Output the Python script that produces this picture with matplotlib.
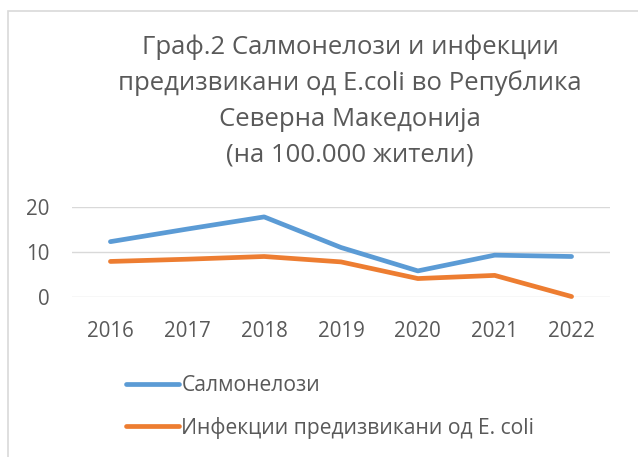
import matplotlib
matplotlib.use("Agg")
import matplotlib.pyplot as plt
from matplotlib.patches import Rectangle

years = ["2016", "2017", "2018", "2019", "2020", "2021", "2022"]
salmonella = [12.3, 15.1, 17.8, 11.0, 5.8, 9.3, 9.0]
ecoli = [7.9, 8.4, 9.0, 7.8, 4.1, 4.8, 0.1]
series_names = ["Салмонелози", "Инфекции предизвикани од E. coli"]
title = "Граф.2 Салмонелози и инфекции\nпредизвикани од E.coli во Република\nСеверна Македонија\n(на 100.000 жители)"
yticks = [0, 10, 20]

plt.rcParams['font.family'] = ['Open Sans', 'DejaVu Sans']
TXT = "#595959"
BLUE = "#5B9BD5"
ORANGE = "#ED7D31"
GRID = "#D9D9D9"

fig = plt.figure(figsize=(6.38, 4.57), dpi=100)
fig.patch.set_facecolor("white")
fig.patches.append(Rectangle((8/638, -0.1), 1.2, 1 - 11/457 + 0.1, transform=fig.transFigure,
                             fill=False, edgecolor=GRID, linewidth=1.2))

ax = fig.add_axes([72/638, 1 - 297/457, (610 - 72)/638, 90/457])
x = list(range(len(years)))
l1, = ax.plot(x, salmonella, color=BLUE, lw=3.4, solid_capstyle="round", clip_on=False, zorder=3)
l2, = ax.plot(x, ecoli, color=ORANGE, lw=3.4, solid_capstyle="round", clip_on=False, zorder=3)
ax.set_xlim(-0.5, len(years) - 0.5)
ax.set_ylim(0, 20)
ax.set_yticks(yticks)
ax.set_yticklabels([str(v) for v in yticks])
ax.set_xticks(x)
ax.set_xticklabels(years)
ax.grid(axis="y", color=GRID, lw=1)
ax.set_axisbelow(True)
for s in ax.spines.values():
    s.set_visible(False)
ax.tick_params(length=0, labelsize=14.8, colors=TXT)
ax.tick_params(axis="x", pad=17)
ax.tick_params(axis="y", pad=16)

fig.text(350/638, 1 - 34/457, title, ha="center", va="top", fontsize=18.5, color=TXT, linespacing=1.55)

fig.legend([l1, l2], series_names, loc="upper left", bbox_to_anchor=(107/638, 1 - 356/457),
           frameon=False, fontsize=15.2, labelcolor=TXT, handlelength=2.5, handletextpad=0.12,
           labelspacing=0.98)

fig.savefig("out.png", dpi=100, facecolor="white")
